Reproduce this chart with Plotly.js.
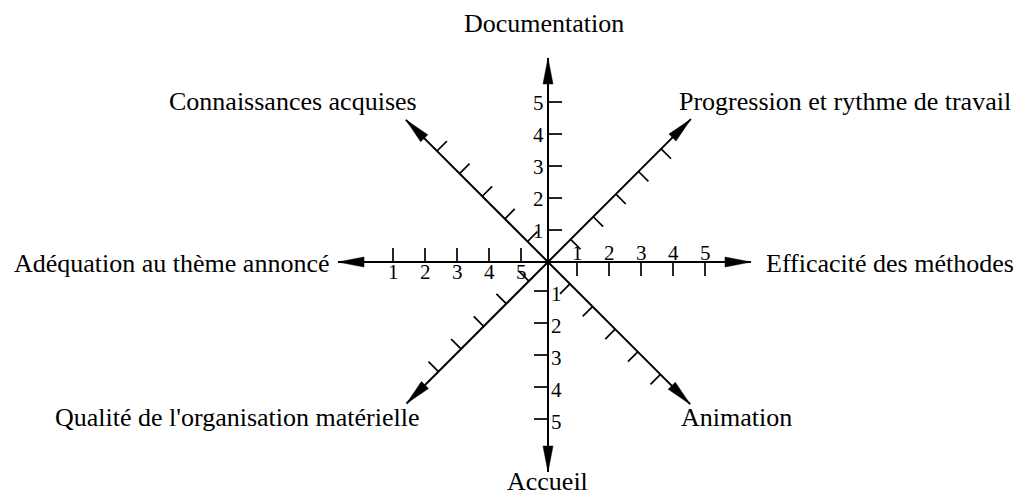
<!DOCTYPE html>
<html><head><meta charset="utf-8">
<script src="https://cdn.plot.ly/plotly-3.0.1.min.js"></script>
<style>html,body{margin:0;padding:0;background:#fff}#chart{width:1020px;height:495px}</style>
</head><body><div id="chart"></div>
<script>
// ---- Data ----
const axisNames = ["Documentation", "Progression et rythme de travail", "Efficacité des méthodes", "Animation",
                   "Accueil", "Qualité de l'organisation matérielle", "Adéquation au thème annoncé", "Connaissances acquises"];
const scaleValues = [1, 2, 3, 4, 5];
const labelsUp = ["1", "2", "3", "4", "5"];      // centre outward
const labelsRight = ["1", "2", "3", "4", "5"];   // centre outward
const labelsDown = ["1", "2", "3", "4", "5"];    // centre outward
const labelsLeft = ["5", "4", "3", "2", "1"];    // centre outward

// ---- Geometry / style (layout only) ----
const C = [548, 262];
const UNIT = 32;
const S2 = Math.SQRT1_2;
const dirs = [[0,-1],[S2,-S2],[1,0],[S2,S2],[0,1],[-S2,S2],[-1,0],[-S2,-S2]];
const lens = [204, 202, 203, 201, 210, 200, 210, 201];
const tickOff = [0, 0, -3, -1, -3, -5, -5, -3];
const TICK = 14, HEAD = 26, HALF = 5;
const titlePos = [
  {x: 544, y: 23.2, xa: "center"},
  {x: 677, y: 101.2, xa: "left"},
  {x: 764, y: 263.2, xa: "left"},
  {x: 679, y: 417.2, xa: "left"},
  {x: 547.5, y: 481.2, xa: "center"},
  {x: 421, y: 417.2, xa: "right"},
  {x: 332, y: 263.2, xa: "right"},
  {x: 419, y: 101.2, xa: "right"}
];
const FONT = "Liberation Serif";

const axX = [], axY = [], tkX = [], tkY = [], hdX = [], hdY = [];
const tickPts = []; // per axis list of tick points
dirs.forEach((d, k) => {
  const L = lens[k];
  const tip = [C[0] + d[0]*L, C[1] + d[1]*L];
  axX.push(C[0], tip[0], null); axY.push(C[1], tip[1], null);
  const p = [-d[1], d[0]];
  const b = [tip[0] - d[0]*HEAD, tip[1] - d[1]*HEAD];
  hdX.push(tip[0], b[0] + p[0]*HALF, b[0] - p[0]*HALF, tip[0], null);
  hdY.push(tip[1], b[1] + p[1]*HALF, b[1] - p[1]*HALF, tip[1], null);
  const pts = [];
  scaleValues.forEach(v => {
    const dist = UNIT*v + tickOff[k];
    const q = [C[0] + d[0]*dist, C[1] + d[1]*dist];
    pts.push(q);
    tkX.push(q[0], q[0] + p[0]*TICK, null);
    tkY.push(q[1], q[1] + p[1]*TICK, null);
  });
  tickPts.push(pts);
});

const traces = [
  {x: axX, y: axY, mode: "lines", line: {color: "#000", width: 2}, hoverinfo: "skip"},
  {x: tkX, y: tkY, mode: "lines", line: {color: "#000", width: 1.7}, hoverinfo: "skip"},
  {x: hdX, y: hdY, mode: "lines", fill: "toself", fillcolor: "#000", line: {color: "#000", width: 0.5}, hoverinfo: "skip"}
];

const ann = [];
axisNames.forEach((n, k) => {
  const t = titlePos[k];
  ann.push({x: t.x, y: t.y, xref: "x", yref: "y", text: n, showarrow: false, xanchor: t.xa, yanchor: "middle",
            font: {family: FONT, size: 26, color: "#000"}});
});
const TF = {family: FONT, size: 21, color: "#000"};
tickPts[0].forEach((q, i) => ann.push({x: C[0] - 2, y: q[1] + 1.2, xref: "x", yref: "y", text: labelsUp[i], showarrow: false, xanchor: "right", yanchor: "middle", font: TF}));
tickPts[2].forEach((q, i) => ann.push({x: q[0], y: 253.2, xref: "x", yref: "y", text: labelsRight[i], showarrow: false, xanchor: "center", yanchor: "middle", font: TF}));
tickPts[4].forEach((q, i) => ann.push({x: C[0] + 1, y: q[1] + 2.8, xref: "x", yref: "y", text: labelsDown[i], showarrow: false, xanchor: "left", yanchor: "middle", font: TF}));
tickPts[6].forEach((q, i) => ann.push({x: q[0], y: 272.2, xref: "x", yref: "y", text: labelsLeft[i], showarrow: false, xanchor: "center", yanchor: "middle", font: TF}));

const layout = {
  width: 1020, height: 495, margin: {l: 0, r: 0, t: 0, b: 0},
  paper_bgcolor: "#fff", plot_bgcolor: "#fff", showlegend: false,
  xaxis: {range: [0, 1020], visible: false, fixedrange: true},
  yaxis: {range: [495, 0], visible: false, fixedrange: true},
  annotations: ann
};
Plotly.newPlot("chart", traces, layout, {staticPlot: true, displayModeBar: false});
</script>
</body></html>
